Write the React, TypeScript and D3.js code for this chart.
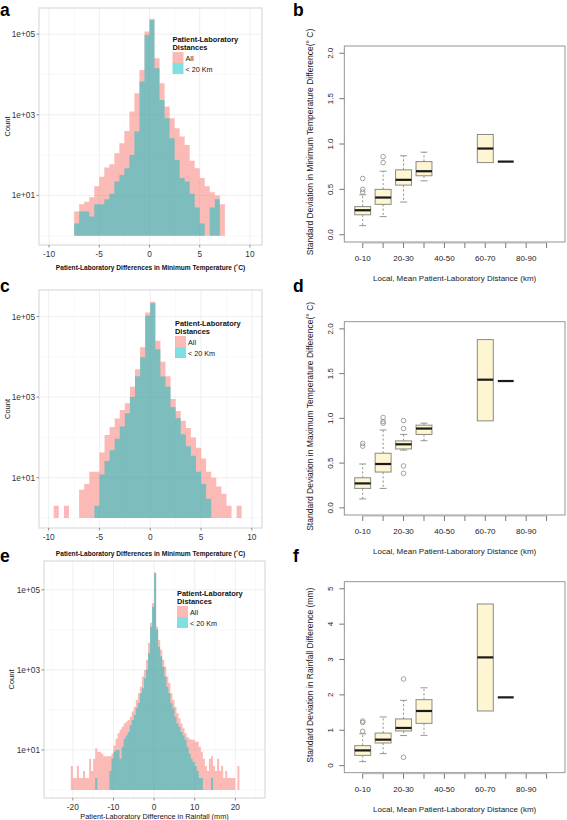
import React from 'react';
import * as d3 from 'd3';

const FONT = '"Liberation Sans", Arial, Helvetica, sans-serif';
const BIN_WIDTH = 0.5;

// ---------- Histogram data (counts per 0.5 bin) ----------
const minTempBinStartA = -7.5;
const minTempAllA = [4, 6, 7, 9, 17, 29, 49, 59, 111, 197, 398, 1200, 3430, 13000, 116000, 240000, 25400, 6070, 1600, 822, 465, 288, 179, 72, 47, 27, 17, 12, 10, 6];
const minTempNearA = [2, 4, 4, 3, 6, 6, 8, 11, 22, 32, 47, 101, 384, 6680, 96000, 226000, 14300, 2340, 822, 262, 76, 27, 22, 11, 5, 2, 0, 5, 8, 0];

const minTempBinStartC = -9.5;
const minTempAllC = [2, 0, 2, 0, 0, 5, 7, 14, 14, 42, 115, 182, 295, 479, 708, 1820, 4900, 17400, 126000, 234000, 25100, 7590, 3310, 900, 450, 260, 170, 100, 55, 30, 14, 10, 6, 4, 2, 0, 2];
const minTempNearC = [0, 0, 0, 0, 0, 0, 0, 0, 2, 12, 26, 48, 93, 186, 400, 1000, 3310, 9770, 105000, 214000, 15500, 3240, 1820, 560, 300, 120, 60, 35, 14, 7, 3, 0, 0, 0, 0, 0, 0];

const rainBinStart = -21;
const rainAll = [0, 4, 2, 2, 4, 2, 2, 3, 2, 2, 6, 3, 6, 11, 9, 9, 8, 7, 7, 7, 7, 8, 13, 19, 26, 32, 38, 46, 51, 56, 68, 91, 120, 178, 260, 380, 680, 1000, 1780, 4700, 15000, 47000,
  270000, 12000, 5600, 3160, 1780, 1200, 680, 470, 260, 178, 120, 83, 62, 46, 35, 26, 21, 19, 18, 18, 16, 16, 12, 9, 6, 4, 3, 6, 7, 4, 3, 6, 3, 4, 2, 3, 2, 2, 2, 2, 0, 4];
const rainNear = [0, 0, 0, 0, 0, 0, 0, 0, 0, 0, 0, 0, 0, 2, 0, 0, 0, 0, 0, 0, 3, 6, 9, 10, 10, 6, 12, 19, 23, 28, 42, 56, 75, 110, 150, 260, 350, 620, 1000, 2600, 12000, 38000,
  260000, 10000, 3800, 2200, 1200, 680, 380, 260, 150, 110, 68, 46, 38, 28, 23, 18, 12, 8, 6, 5, 4, 3, 2, 2, 0, 0, 0, 0, 2, 0, 0, 0, 0, 0, 0, 0, 0, 0, 0, 0, 0, 0];

const countTicks = [10, 1000, 100000];
const countTickLabels = ['1e+01', '1e+03', '1e+05'];
const countMinorTicks = [1, 100, 10000];
const tempTicks = [-10, -5, 0, 5, 10];
const tempMinorTicks = [-7.5, -2.5, 2.5, 7.5];
const rainTicks = [-20, -10, 0, 10, 20];
const rainMinorTicks = [-25, -15, -5, 5, 15, 25];
const legendTitle = ['Patient-Laboratory', 'Distances'];
const legendLabels = ['All', '< 20 Km'];

// ---------- Box plot data ----------
const distanceCats = ['0-10', '10-20', '20-30', '30-40', '40-50', '50-60', '60-70', '70-80', '80-90', '90-100'];

const minLow = [0.10, 0.20, 0.36, 0.594, null, null, 0.795, 0.806, null, null];
const minQ1 = [0.22, 0.335, 0.547, 0.65, null, null, 0.795, 0.806, null, null];
const minMed = [0.27, 0.41, 0.605, 0.70, null, null, 0.95, 0.806, null, null];
const minQ3 = [0.31, 0.50, 0.715, 0.806, null, null, 1.105, 0.806, null, null];
const minHigh = [0.44, 0.70, 0.87, 0.91, null, null, 1.105, 0.806, null, null];
const minOut = [[0.62, 0.50, 0.47], [0.795, 0.86], [], [], [], [], [], [], [], []];

const maxLow = [0.10, 0.217, 0.645, 0.75, null, null, 0.972, 1.417, null, null];
const maxQ1 = [0.217, 0.40, 0.658, 0.82, null, null, 0.972, 1.417, null, null];
const maxMed = [0.273, 0.49, 0.71, 0.886, null, null, 1.432, 1.417, null, null];
const maxQ3 = [0.336, 0.61, 0.748, 0.924, null, null, 1.88, 1.417, null, null];
const maxHigh = [0.49, 0.87, 0.82, 0.946, null, null, 1.88, 1.417, null, null];
const maxOut = [[0.72, 0.69], [1.01, 0.965, 0.946], [0.975, 0.886, 0.468, 0.385], [], [], [], [], [], [], []];

const rainLow = [0.113, 0.34, 0.85, 0.856, null, null, 1.545, 1.93, null, null];
const rainQ1 = [0.29, 0.64, 0.98, 1.195, null, null, 1.545, 1.93, null, null];
const rainMed = [0.43, 0.734, 1.065, 1.545, null, null, 3.06, 1.93, null, null];
const rainQ3 = [0.565, 0.92, 1.32, 1.865, null, null, 4.57, 1.93, null, null];
const rainHigh = [0.9, 1.375, 1.845, 2.2, null, null, 4.57, 1.93, null, null];
const rainOut = [[0.97, 1.22, 1.26], [], [2.45, 0.235], [], [], [], [], [], [], []];

const tempSdTicks = [0, 0.5, 1, 1.5, 2];
const tempSdTickLabels = ['0.0', '0.5', '1.0', '1.5', '2.0'];
const rainSdTicks = [0, 1, 2, 3, 4, 5];
const rainSdTickLabels = ['0', '1', '2', '3', '4', '5'];

const PINK = '#F8766D';
const CYAN = '#00BFC4';

type HistCfg = {
  left: number; right: number; top: number; bottom: number;
  xDom: [number, number]; yLog: [number, number];
  ticks: number[]; minor: number[];
  start: number; all: number[]; near: number[];
  legendX: number; legendY: number;
  title: string; titleY: number; titleBold: boolean; titleSize: number;
  countX: number;
};

function Hist({ cfg, id }: { cfg: HistCfg; id: string }) {
  const x = d3.scaleLinear().domain(cfg.xDom).range([cfg.left, cfg.right]);
  const y = d3.scaleLog().domain([Math.pow(10, cfg.yLog[0]), Math.pow(10, cfg.yLog[1])]).range([cfg.bottom, cfg.top]);
  const mkArea = (counts: number[]) => {
    const pts = counts.map((c, i) => ({ x0: cfg.start + i * BIN_WIDTH, c }));
    pts.push({ x0: cfg.start + counts.length * BIN_WIDTH, c: 1 });
    return d3.area<{ x0: number; c: number }>()
      .x(d => x(d.x0))
      .y0(y(1))
      .y1(d => y(Math.max(d.c, 1)))
      .curve(d3.curveStepAfter)(pts) || '';
  };
  const cx = (cfg.left + cfg.right) / 2;
  const cy = (cfg.top + cfg.bottom) / 2;
  return (
    <g>
      <defs>
        <clipPath id={id}>
          <rect x={cfg.left} y={cfg.top} width={cfg.right - cfg.left} height={cfg.bottom - cfg.top} />
        </clipPath>
      </defs>
      <rect x={cfg.left} y={cfg.top} width={cfg.right - cfg.left} height={cfg.bottom - cfg.top} fill="#fff" />
      {countMinorTicks.map(t => (
        <line key={'ym' + t} x1={cfg.left} x2={cfg.right} y1={y(t)} y2={y(t)} stroke="#f2f2f2" strokeWidth={0.5} />
      ))}
      {cfg.minor.map(t => (
        <line key={'xm' + t} x1={x(t)} x2={x(t)} y1={cfg.top} y2={cfg.bottom} stroke="#f2f2f2" strokeWidth={0.5} />
      ))}
      {countTicks.map(t => (
        <line key={'yg' + t} x1={cfg.left} x2={cfg.right} y1={y(t)} y2={y(t)} stroke="#e8e8e8" strokeWidth={0.7} />
      ))}
      {cfg.ticks.map(t => (
        <line key={'xg' + t} x1={x(t)} x2={x(t)} y1={cfg.top} y2={cfg.bottom} stroke="#e8e8e8" strokeWidth={0.7} />
      ))}
      <g clipPath={`url(#${id})`}>
        <path d={mkArea(cfg.all)} fill={PINK} fillOpacity={0.5} />
        <path d={mkArea(cfg.near)} fill={CYAN} fillOpacity={0.5} />
      </g>
      <rect x={cfg.left} y={cfg.top} width={cfg.right - cfg.left} height={cfg.bottom - cfg.top} fill="none" stroke="#c9c9c9" strokeWidth={0.8} />
      {countTicks.map((t, i) => (
        <g key={'yt' + t}>
          <line x1={cfg.left - 2.5} x2={cfg.left} y1={y(t)} y2={y(t)} stroke="#444" strokeWidth={0.6} />
          <text x={cfg.left - 4} y={y(t) + 3} textAnchor="end" fontSize={8.3} fill="#333" fontFamily={FONT}>{countTickLabels[i]}</text>
        </g>
      ))}
      {cfg.ticks.map(t => (
        <g key={'xt' + t}>
          <line x1={x(t)} x2={x(t)} y1={cfg.bottom} y2={cfg.bottom + 2.5} stroke="#444" strokeWidth={0.6} />
          <text x={x(t)} y={cfg.bottom + 11.5} textAnchor="middle" fontSize={8.3} fill="#333" fontFamily={FONT}>{t}</text>
        </g>
      ))}
      <text transform={`translate(${cfg.countX},${cy}) rotate(-90)`} textAnchor="middle" fontSize={7.5} fill="#111" fontFamily={FONT}>Count</text>
      <text x={cx} y={cfg.titleY} textAnchor="middle" fontSize={cfg.titleSize} fontWeight={cfg.titleBold ? 'bold' : 'normal'} fill="#111" fontFamily={FONT}>{cfg.title}</text>
      <g>
        {legendTitle.map((t, i) => (
          <text key={t} x={cfg.legendX} y={cfg.legendY + i * 8} fontSize={7.4} fontWeight="bold" fill="#111" fontFamily={FONT}>{t}</text>
        ))}
        <rect x={cfg.legendX} y={cfg.legendY + 10} width={11} height={11} fill={PINK} fillOpacity={0.5} />
        <rect x={cfg.legendX} y={cfg.legendY + 21} width={11} height={11} fill={CYAN} fillOpacity={0.5} />
        {legendLabels.map((t, i) => (
          <text key={t} x={cfg.legendX + 13} y={cfg.legendY + 18.5 + i * 11} fontSize={7.2} fill="#111" fontFamily={FONT}>{t}</text>
        ))}
      </g>
    </g>
  );
}

type BoxCfg = {
  top: number; bottom: number; yDom: [number, number];
  ticks: number[]; tickLabels: string[];
  low: (number | null)[]; q1: (number | null)[]; med: (number | null)[]; q3: (number | null)[]; high: (number | null)[];
  out: number[][];
  yTitle: string;
};

const BOX_LEFT = 344.3;
const BOX_RIGHT = 565;

function BoxPanel({ cfg }: { cfg: BoxCfg }) {
  const x = d3.scaleLinear().domain([0.1, 10.9]).range([BOX_LEFT, BOX_RIGHT]);
  const y = d3.scaleLinear().domain(cfg.yDom).range([cfg.bottom, cfg.top]);
  const hw = 0.39;
  const sw = 0.17;
  const stroke = '#8a8a80';
  const cy = (cfg.top + cfg.bottom) / 2;
  const cx = (BOX_LEFT + BOX_RIGHT) / 2;
  return (
    <g fontFamily={FONT}>
      {distanceCats.map((c, i) => {
        const pos = i + 1;
        const lo = cfg.low[i], a = cfg.q1[i], m = cfg.med[i], b = cfg.q3[i], hi = cfg.high[i];
        if (m === null || lo === null || a === null || b === null || hi === null) return null;
        return (
          <g key={c}>
            {hi > b && <line x1={x(pos)} x2={x(pos)} y1={y(b)} y2={y(hi)} stroke={stroke} strokeWidth={0.9} strokeDasharray="2.2,2" />}
            {lo < a && <line x1={x(pos)} x2={x(pos)} y1={y(a)} y2={y(lo)} stroke={stroke} strokeWidth={0.9} strokeDasharray="2.2,2" />}
            {hi > b && <line x1={x(pos - sw)} x2={x(pos + sw)} y1={y(hi)} y2={y(hi)} stroke={stroke} strokeWidth={0.9} />}
            {lo < a && <line x1={x(pos - sw)} x2={x(pos + sw)} y1={y(lo)} y2={y(lo)} stroke={stroke} strokeWidth={0.9} />}
            {b > a && <rect x={x(pos - hw)} y={y(b)} width={x(pos + hw) - x(pos - hw)} height={y(a) - y(b)} fill="#FEF5D3" stroke={stroke} strokeWidth={1} />}
            <line x1={x(pos - hw)} x2={x(pos + hw)} y1={y(m)} y2={y(m)} stroke="#1a1a1a" strokeWidth={2.2} />
            {cfg.out[i].map((o, j) => (
              <circle key={j} cx={x(pos)} cy={y(o)} r={2.3} fill="none" stroke={stroke} strokeWidth={0.8} />
            ))}
          </g>
        );
      })}
      <rect x={BOX_LEFT} y={cfg.top} width={BOX_RIGHT - BOX_LEFT} height={cfg.bottom - cfg.top} fill="none" stroke="#8a8a8a" strokeWidth={0.9} />
      <line x1={x(1)} x2={x(10)} y1={cfg.bottom + 1} y2={cfg.bottom + 1} stroke="#8a8a8a" strokeWidth={0.6} />
      {distanceCats.map((c, i) => (
        <g key={'xt' + c}>
          <line x1={x(i + 1)} x2={x(i + 1)} y1={cfg.bottom + 1} y2={cfg.bottom + 6} stroke="#555" strokeWidth={0.8} />
          {i % 2 === 0 && (
            <text x={x(i + 1)} y={cfg.bottom + 19} textAnchor="middle" fontSize={8} fill="#222">{c}</text>
          )}
        </g>
      ))}
      {cfg.ticks.map((t, i) => (
        <g key={'yt' + t}>
          <line x1={BOX_LEFT - 5} x2={BOX_LEFT} y1={y(t)} y2={y(t)} stroke="#555" strokeWidth={0.8} />
          <text transform={`translate(${BOX_LEFT - 11},${y(t)}) rotate(-90)`} textAnchor="middle" fontSize={8} fill="#222">{cfg.tickLabels[i]}</text>
        </g>
      ))}
      <text transform={`translate(313,${cy - 2}) rotate(-90)`} textAnchor="middle" fontSize={8.5} fill="#222">{cfg.yTitle}</text>
      <text x={cx} y={cfg.bottom + 39} textAnchor="middle" fontSize={8} fill="#222">Local, Mean Patient-Laboratory Distance (km)</text>
    </g>
  );
}

const TEMP_TITLE = 'Patient-Laboratory Differences in Minimum Temperature (\u02DAC)';

export default function App() {
  const histA: HistCfg = {
    left: 39, right: 262, top: 8, bottom: 245, xDom: [-11, 11.2], yLog: [-0.23, 5.65],
    ticks: tempTicks, minor: tempMinorTicks, start: minTempBinStartA, all: minTempAllA, near: minTempNearA,
    legendX: 172.5, legendY: 42, title: TEMP_TITLE, titleY: 270, titleBold: true, titleSize: 6.6, countX: 9.5,
  };
  const histC: HistCfg = {
    left: 39, right: 262, top: 290, bottom: 528, xDom: [-10.95, 11.0], yLog: [-0.25, 5.66],
    ticks: tempTicks, minor: tempMinorTicks, start: minTempBinStartC, all: minTempAllC, near: minTempNearC,
    legendX: 175, legendY: 326, title: TEMP_TITLE, titleY: 556, titleBold: true, titleSize: 6.6, countX: 9.5,
  };
  const histE: HistCfg = {
    left: 44, right: 265, top: 561, bottom: 798, xDom: [-27.1, 27.3], yLog: [-0.2, 5.72],
    ticks: rainTicks, minor: rainMinorTicks, start: rainBinStart, all: rainAll, near: rainNear,
    legendX: 177, legendY: 596, title: 'Patient-Laboratory Difference in Rainfall (mm)', titleY: 818.5, titleBold: false, titleSize: 7.3, countX: 14,
  };
  const boxB: BoxCfg = {
    top: 46, bottom: 242, yDom: [-0.08, 2.08], ticks: tempSdTicks, tickLabels: tempSdTickLabels,
    low: minLow, q1: minQ1, med: minMed, q3: minQ3, high: minHigh, out: minOut,
    yTitle: 'Standard Deviation in Minimum Temperature Difference(\u00B0 C)',
  };
  const boxD: BoxCfg = {
    top: 321.7, bottom: 515, yDom: [-0.08, 2.08], ticks: tempSdTicks, tickLabels: tempSdTickLabels,
    low: maxLow, q1: maxQ1, med: maxMed, q3: maxQ3, high: maxHigh, out: maxOut,
    yTitle: 'Standard Deviation in Maximum Temperature Difference(\u00B0 C)',
  };
  const boxF: BoxCfg = {
    top: 581.7, bottom: 772.7, yDom: [-0.2, 5.2], ticks: rainSdTicks, tickLabels: rainSdTickLabels,
    low: rainLow, q1: rainQ1, med: rainMed, q3: rainQ3, high: rainHigh, out: rainOut,
    yTitle: 'Standard Deviation in Rainfall Difference (mm)',
  };
  const letters = [
    { t: 'a', x: 0, y: 16 }, { t: 'b', x: 293, y: 16 },
    { t: 'c', x: 0, y: 292 }, { t: 'd', x: 293, y: 292 },
    { t: 'e', x: 0, y: 562 }, { t: 'f', x: 293, y: 562 },
  ];
  return (
    <svg width={567} height={820} style={{ position: 'absolute', left: 0, top: 0, background: '#fff' }} fontFamily={FONT}>
      <rect x={0} y={0} width={567} height={820} fill="#fff" />
      <Hist cfg={histA} id="clipA" />
      <Hist cfg={histC} id="clipC" />
      <Hist cfg={histE} id="clipE" />
      <BoxPanel cfg={boxB} />
      <BoxPanel cfg={boxD} />
      <BoxPanel cfg={boxF} />
      {letters.map(l => (
        <text key={l.t} x={l.x} y={l.y} fontSize={17.5} fontWeight="bold" fill="#000" fontFamily={FONT}>{l.t}</text>
      ))}
    </svg>
  );
}
